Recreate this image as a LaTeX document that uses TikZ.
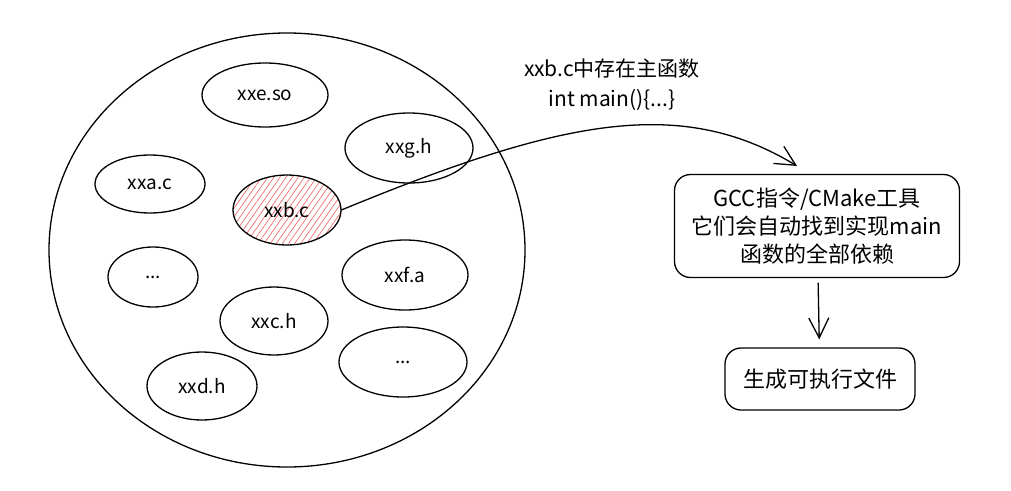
\documentclass[tikz,border=0pt]{standalone}
\usepackage{fontspec}
\newfontfamily\cjk{Noto Sans CJK SC}
\usetikzlibrary{shapes.geometric,arrows.meta,patterns.meta}
\definecolor{hatchred}{RGB}{236,110,110}

\begin{document}
\begin{tikzpicture}[x=1pt,y=-1pt,line width=1.3pt,line join=round,line cap=round,
    file/.style={draw, ellipse, inner sep=0pt, font=\cjk\fontsize{19}{22}\selectfont},
    tool/.style={draw, rectangle, rounded corners=16pt, align=center, font=\cjk\fontsize{22}{28}\selectfont},
    note/.style={align=center, font=\cjk\fontsize{21}{30}\selectfont},
    flow/.style={-{Straight Barb[length=20pt,width=20pt]}}]
  \useasboundingbox (0,0) rectangle (1011,490);

  \node[draw, ellipse, minimum width=476, minimum height=434] (disk) at (287,250) {};

  \node[file, minimum width=126, minimum height=64] (xxe) at (265,95) {xxe.so};
  \node[file, minimum width=128, minimum height=70] (xxg) at (409,148) {xxg.h};
  \node[file, minimum width=110, minimum height=58] (xxa) at (150,184) {xxa.c};
  \node[file, minimum width=108, minimum height=70, pattern={Lines[angle=55,distance=5pt,line width=0.7pt]}, pattern color=hatchred] (xxb) at (287,210) {xxb.c};
  \node[file, minimum width=90, minimum height=60] (dotsa) at (153,277) {...};
  \node[file, minimum width=126, minimum height=70] (xxf) at (405,275) {xxf.a};
  \node[file, minimum width=108, minimum height=68] (xxc) at (274,321) {xxc.h};
  \node[file, minimum width=128, minimum height=70] (dotsb) at (403,362) {...};
  \node[file, minimum width=110, minimum height=68] (xxd) at (202,386) {xxd.h};

  \node[note] (mainnote) at (612,85) {xxb.c中存在主函数\\int main()\{...\}};

  \node[tool, minimum width=285, minimum height=103] (gcc) at (817,226) {GCC指令/CMake工具\\它们会自动找到实现main\\函数的全部依赖};
  \node[tool, minimum width=190, minimum height=62] (exe) at (820,379) {生成可执行文件};

  \coordinate (tip) at (797,166);
  \draw[flow] (xxb.east) .. controls (560,120) and (680,95) .. (tip);
  \draw[flow, shorten <=5pt, shorten >=8pt] (gcc) -- (exe);
\end{tikzpicture}
\end{document}
